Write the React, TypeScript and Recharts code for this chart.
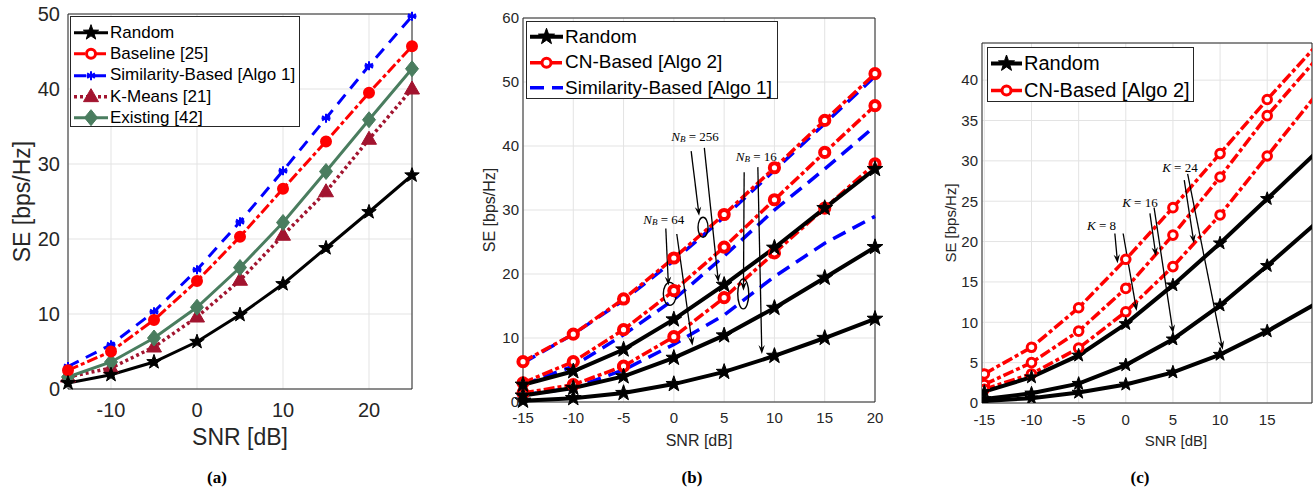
import React from 'react';
import {
  LineChart,
  Line,
  XAxis,
  YAxis,
  CartesianGrid,
  ReferenceArea,
  ReferenceLine,
  ReferenceDot,
  Legend,
} from 'recharts';

const SANS = '"Liberation Sans", Arial, Helvetica, sans-serif';
const SERIF = '"Liberation Serif", "Times New Roman", serif';
const AX = '#262626';
const GRID = '#e3e3e3';
const RED = '#ff0000';
const BLUE = '#0000ff';
const MAROON = '#a2142f';
const GREEN = '#4a7d5f';
const RED_DASH = '11 3 4 3';

// ---- (a) SE vs SNR, K-means / existing comparison ----
const snrA = [-15, -10, -5, 0, 5, 10, 15, 20, 25];
const randomA = [0.8, 1.9, 3.6, 6.3, 9.9, 14.0, 18.8, 23.6, 28.5];
const baselineA = [2.5, 5.0, 9.2, 14.4, 20.3, 26.7, 33.0, 39.5, 45.7];
const similarityA = [3.0, 5.9, 10.3, 15.9, 22.3, 29.1, 36.1, 43.1, 49.7];
const kmeansA = [1.6, 2.8, 5.6, 9.6, 14.5, 20.5, 26.3, 33.3, 40.0];
const existingA = [1.6, 3.6, 6.8, 10.9, 16.2, 22.2, 29.0, 35.9, 42.7];
const xTicksA = [-10, 0, 10, 20];
const yTicksA = [0, 10, 20, 30, 40, 50];

// ---- (b) three N_B groups ----
const snrB = [-15, -10, -5, 0, 5, 10, 15, 20];
const cnB256 = [6.3, 10.6, 16.1, 22.5, 29.3, 36.6, 44.0, 51.3];
const cnB64 = [3.0, 6.3, 11.3, 17.4, 24.2, 31.6, 39.0, 46.3];
const cnB16 = [1.4, 2.7, 5.6, 10.2, 16.3, 23.3, 30.3, 37.2];
const simB256 = [6.1, 10.6, 15.9, 22.1, 28.9, 36.2, 43.5, 50.9];
const simB64 = [2.7, 5.6, 10.5, 16.0, 22.8, 30.0, 36.4, 43.1];
const simB16 = [1.1, 2.2, 5.0, 9.0, 13.6, 19.6, 24.8, 29.0];
const randB256 = [2.7, 4.8, 8.2, 12.9, 18.3, 24.1, 30.3, 36.4];
const randB64 = [1.0, 2.2, 4.0, 6.9, 10.4, 14.7, 19.4, 24.2];
const randB16 = [0.2, 0.6, 1.4, 2.8, 4.7, 7.2, 10.0, 13.0];
const xTicksB = [-15, -10, -5, 0, 5, 10, 15, 20];
const yTicksB = [0, 10, 20, 30, 40, 50, 60];

// ---- (c) three K groups ----
const snrC = [-15, -10, -5, 0, 5, 10, 15, 20];
const cnHighC = [3.6, 6.9, 11.8, 17.8, 24.2, 30.9, 37.6, 44.0];
const cnMidC = [2.3, 5.0, 8.9, 14.2, 20.8, 28.0, 35.6, 42.3];
const cnLowC = [1.7, 3.6, 6.8, 11.3, 16.9, 23.3, 30.6, 37.9];
const randHighC = [1.4, 3.2, 5.9, 9.8, 14.6, 19.8, 25.3, 30.8];
const randMidC = [0.5, 1.2, 2.4, 4.7, 7.9, 12.1, 17.0, 22.1];
const randLowC = [0.25, 0.6, 1.3, 2.3, 3.8, 6.0, 8.9, 12.2];
const xTicksC = [-15, -10, -5, 0, 5, 10, 15];
const yTicksC = [0, 5, 10, 15, 20, 25, 30, 35, 40];
const xMaxC = 19.75;

const dataA = snrA.map((snr, i) => ({
  snr,
  random: randomA[i],
  baseline: baselineA[i],
  similarity: similarityA[i],
  kmeans: kmeansA[i],
  existing: existingA[i],
}));

const dataB = snrB.map((snr, i) => ({
  snr,
  cn256: cnB256[i],
  cn64: cnB64[i],
  cn16: cnB16[i],
  sim256: simB256[i],
  sim64: simB64[i],
  sim16: simB16[i],
  r256: randB256[i],
  r64: randB64[i],
  r16: randB16[i],
}));

const dataC = snrC.map((snr, i) => ({
  snr,
  cnHigh: cnHighC[i],
  cnMid: cnMidC[i],
  cnLow: cnLowC[i],
  rHigh: randHighC[i],
  rMid: randMidC[i],
  rLow: randLowC[i],
}));

// ---- markers ----
function starPts(cx: number, cy: number, R: number) {
  const pts: string[] = [];
  for (let k = 0; k < 10; k++) {
    const rad = k % 2 === 0 ? R : R * 0.4;
    const a = -Math.PI / 2 + (k * Math.PI) / 5;
    pts.push(`${cx + rad * Math.cos(a)},${cy + rad * Math.sin(a)}`);
  }
  return pts.join(' ');
}

const star = (R: number) => (p: any) =>
  p.cx == null ? <g key={p.index} /> : (
    <polygon key={p.index} points={starPts(p.cx, p.cy, R)} fill="#000" stroke="#000" strokeWidth={1} strokeLinejoin="round" />
  );

const ring = (r: number, sw: number, fill: string) => (p: any) =>
  p.cx == null ? <g key={p.index} /> : (
    <circle key={p.index} cx={p.cx} cy={p.cy} r={r} fill={fill} stroke={RED} strokeWidth={sw} />
  );

// points past the visible x range of (c) get no marker
const inRangeC = (draw: (p: any) => React.ReactNode) => (p: any) =>
  p.payload && p.payload.snr > xMaxC ? <g key={p.index} /> : draw(p);

const asterisk = (p: any) => {
  if (p.cx == null) return <g key={p.index} />;
  const r = 4.5;
  const d = [0, 60, 120].map((deg) => {
    const a = (deg * Math.PI) / 180 + Math.PI / 2;
    return `M${p.cx - r * Math.cos(a)},${p.cy - r * Math.sin(a)}L${p.cx + r * Math.cos(a)},${p.cy + r * Math.sin(a)}`;
  });
  return <path key={p.index} d={d.join('') + `M${p.cx - r},${p.cy}L${p.cx + r},${p.cy}`} stroke={BLUE} strokeWidth={2} fill="none" />;
};

const triangle = (p: any) =>
  p.cx == null ? <g key={p.index} /> : (
    <polygon key={p.index} points={`${p.cx},${p.cy - 8} ${p.cx - 7.5},${p.cy + 5} ${p.cx + 7.5},${p.cy + 5}`} fill={MAROON} stroke={MAROON} strokeWidth={1} />
  );

const diamond = (p: any) =>
  p.cx == null ? <g key={p.index} /> : (
    <polygon key={p.index} points={`${p.cx},${p.cy - 8} ${p.cx + 6.5},${p.cy} ${p.cx},${p.cy + 8} ${p.cx - 6.5},${p.cy}`} fill={GREEN} stroke={GREEN} strokeWidth={1} />
  );

// ---- annotation shapes ----
const arrowShape = (props: any) => {
  const { x1, y1, x2, y2 } = props;
  const ang = Math.atan2(y2 - y1, x2 - x1);
  const c = Math.cos(ang);
  const s = Math.sin(ang);
  const L = 9;
  const W = 3.2;
  const bx = x2 - L * c;
  const by = y2 - L * s;
  const nx = x2 - L * 0.65 * c;
  const ny = y2 - L * 0.65 * s;
  const pts = `${x2},${y2} ${bx - W * s},${by + W * c} ${nx},${ny} ${bx + W * s},${by - W * c}`;
  return (
    <g>
      <line x1={x1} y1={y1} x2={nx} y2={ny} stroke="#000" strokeWidth={1.3} />
      <polygon points={pts} fill="#000" />
    </g>
  );
};

const ellipseShape = (rx: number, ry: number) => (p: any) => (
  <ellipse cx={p.cx} cy={p.cy} rx={rx} ry={ry} fill="none" stroke="#000" strokeWidth={1.4} />
);

const nbNote = (value: string) => (p: any) => (
  <text x={p.cx} y={p.cy} textAnchor="middle" dominantBaseline="central" fontFamily={SERIF} fontSize={13} fill="#000">
    <tspan fontStyle="italic">N</tspan>
    <tspan fontStyle="italic" fontSize={9} dy={3}>B</tspan>
    <tspan dy={-3}>{` = ${value}`}</tspan>
  </text>
);

const kNote = (value: string) => (p: any) => (
  <text x={p.cx} y={p.cy} textAnchor="middle" dominantBaseline="central" fontFamily={SERIF} fontSize={13} fill="#000">
    <tspan fontStyle="italic">K</tspan>
    <tspan>{` = ${value}`}</tspan>
  </text>
);

// ---- axis labels ----
const yLabel = (text: string, fs: number, cxFromLeft: number) => (p: any) => {
  const vb = p.viewBox;
  const cx = vb.x + cxFromLeft;
  const cy = vb.y + vb.height / 2;
  return (
    <text x={cx} y={cy} transform={`rotate(-90 ${cx} ${cy})`} textAnchor="middle" dominantBaseline="central" fontFamily={SANS} fontSize={fs} fill={AX}>
      {text}
    </text>
  );
};

const xLabel = (text: string, fs: number, cyFromTop: number, dx = 0) => (p: any) => {
  const vb = p.viewBox;
  return (
    <text x={vb.x + vb.width / 2 + dx} y={vb.y + cyFromTop} textAnchor="middle" dominantBaseline="central" fontFamily={SANS} fontSize={fs} fill={AX}>
      {text}
    </text>
  );
};

// ---- legend ----
type LegendItem = {
  label: string;
  color: string;
  width: number;
  dash?: string;
  marker?: (p: any) => React.ReactNode;
};

function LegendBox({ items, w, h, rowH, padTop, sampleW, textX, fontSize }: {
  items: LegendItem[]; w: number; h: number; rowH: number; padTop: number; sampleW: number; textX: number; fontSize: number;
}) {
  return (
    <div
      style={{
        width: w,
        height: h,
        boxSizing: 'border-box',
        border: `1px solid ${AX}`,
        background: '#fff',
        paddingTop: padTop,
        fontFamily: SANS,
        fontSize,
        color: '#000',
      }}
    >
      {items.map((it) => (
        <div key={it.label} style={{ height: rowH, display: 'flex', alignItems: 'center', whiteSpace: 'nowrap' }}>
          <svg width={textX} height={rowH} style={{ flexShrink: 0 }}>
            <line x1={3} x2={3 + sampleW} y1={rowH / 2} y2={rowH / 2} stroke={it.color} strokeWidth={it.width} strokeDasharray={it.dash} />
            {it.marker ? it.marker({ cx: 3 + sampleW / 2, cy: rowH / 2, index: 0 }) : null}
          </svg>
          <span>{it.label}</span>
        </div>
      ))}
    </div>
  );
}

const tickStyle = (fs: number) => ({ fill: AX, fontSize: fs, fontFamily: SANS });

function PanelA() {
  const items: LegendItem[] = [
    { label: 'Random', color: '#000', width: 3, marker: star(8) },
    { label: 'Baseline [25]', color: RED, width: 3, dash: RED_DASH, marker: ring(4.5, 3, '#fff') },
    { label: 'Similarity-Based [Algo 1]', color: BLUE, width: 3, dash: '12 8', marker: asterisk },
    { label: 'K-Means [21]', color: MAROON, width: 3.5, dash: '3 3', marker: triangle },
    { label: 'Existing [42]', color: GREEN, width: 3, marker: diamond },
  ];
  return (
    <LineChart width={430} height={460} data={dataA} margin={{ top: 14, right: 18, left: 0, bottom: 0 }}>
      <CartesianGrid stroke={GRID} strokeWidth={1} />
      <XAxis
        type="number"
        dataKey="snr"
        domain={[-15, 25]}
        ticks={xTicksA}
        interval={0}
        height={71}
        axisLine={false}
        tickLine={false}
        tickSize={0}
        tickMargin={14}
        tick={tickStyle(20)}
        label={xLabel('SNR [dB]', 23, 48)}
      />
      <YAxis
        type="number"
        domain={[0, 50]}
        ticks={yTicksA}
        interval={0}
        width={68}
        axisLine={false}
        tickLine={false}
        tickSize={0}
        tickMargin={8}
        tick={tickStyle(20)}
        label={yLabel('SE [bps/Hz]', 23, 22)}
      />
      <ReferenceArea x1={-15} x2={25} y1={0} y2={50} fill="none" stroke={AX} strokeWidth={1} />
      <Line dataKey="kmeans" stroke={MAROON} strokeWidth={3.5} strokeDasharray="3 3" dot={triangle} isAnimationActive={false} />
      <Line dataKey="existing" stroke={GREEN} strokeWidth={3} dot={diamond} isAnimationActive={false} />
      <Line dataKey="similarity" stroke={BLUE} strokeWidth={3} strokeDasharray="12 8" dot={asterisk} isAnimationActive={false} />
      <Line dataKey="baseline" stroke={RED} strokeWidth={3} strokeDasharray={RED_DASH} dot={ring(4.5, 3, RED)} isAnimationActive={false} />
      <Line dataKey="random" stroke="#000" strokeWidth={3} dot={star(7.6)} isAnimationActive={false} />
      <Legend
        layout="horizontal"
        verticalAlign="middle"
        align="center"
        wrapperStyle={{ left: 70, top: 16, width: 'auto' }}
        content={() => <LegendBox items={items} w={230} h={111} rowH={21.3} padTop={5} sampleW={34} textX={39} fontSize={17} />}
      />
    </LineChart>
  );
}

function PanelB() {
  const items: LegendItem[] = [
    { label: 'Random', color: '#000', width: 4, marker: star(8.5) },
    { label: 'CN-Based [Algo 2]', color: RED, width: 3.5, dash: RED_DASH, marker: ring(4.5, 3, '#fff') },
    { label: 'Similarity-Based [Algo 1]', color: BLUE, width: 3.5, dash: '14 8' },
  ];
  const redDot = ring(4.6, 4, '#fff');
  return (
    <LineChart width={430} height={460} data={dataB} margin={{ top: 18, right: 15, left: 0, bottom: 0 }}>
      <CartesianGrid stroke={GRID} strokeWidth={1} />
      <XAxis
        type="number"
        dataKey="snr"
        domain={[-15, 20]}
        ticks={xTicksB}
        interval={0}
        height={58}
        axisLine={false}
        tickLine={false}
        tickSize={0}
        tickMargin={10}
        tick={tickStyle(15)}
        label={xLabel('SNR [dB]', 16, 38)}
      />
      <YAxis
        type="number"
        domain={[0, 60]}
        ticks={yTicksB}
        interval={0}
        width={63}
        axisLine={false}
        tickLine={false}
        tickSize={0}
        tickMargin={4}
        tick={tickStyle(15)}
        label={yLabel('SE [bps/Hz]', 16, 29)}
      />
      <ReferenceArea x1={-15} x2={20} y1={0} y2={60} fill="none" stroke={AX} strokeWidth={1} />
      <Line dataKey="sim256" stroke={BLUE} strokeWidth={3.5} strokeDasharray="14 8" dot={false} isAnimationActive={false} />
      <Line dataKey="sim64" stroke={BLUE} strokeWidth={3.5} strokeDasharray="14 8" dot={false} isAnimationActive={false} />
      <Line dataKey="sim16" stroke={BLUE} strokeWidth={3.5} strokeDasharray="14 8" dot={false} isAnimationActive={false} />
      <Line dataKey="cn256" stroke={RED} strokeWidth={3.5} strokeDasharray={RED_DASH} dot={redDot} isAnimationActive={false} />
      <Line dataKey="cn64" stroke={RED} strokeWidth={3.5} strokeDasharray={RED_DASH} dot={redDot} isAnimationActive={false} />
      <Line dataKey="cn16" stroke={RED} strokeWidth={3.5} strokeDasharray={RED_DASH} dot={redDot} isAnimationActive={false} />
      <Line dataKey="r256" stroke="#000" strokeWidth={4} dot={star(8.3)} isAnimationActive={false} />
      <Line dataKey="r64" stroke="#000" strokeWidth={4} dot={star(8.3)} isAnimationActive={false} />
      <Line dataKey="r16" stroke="#000" strokeWidth={4} dot={star(8.3)} isAnimationActive={false} />
      <ReferenceDot x={2.1} y={41.5} r={0} shape={nbNote('256')} />
      <ReferenceDot x={-1.0} y={28.6} r={0} shape={nbNote('64')} />
      <ReferenceDot x={8.2} y={38.5} r={0} shape={nbNote('16')} />
      <ReferenceDot x={2.9} y={27.3} r={0} shape={ellipseShape(5, 10)} />
      <ReferenceDot x={-0.4} y={16.9} r={0} shape={ellipseShape(6.5, 11.5)} />
      <ReferenceDot x={6.9} y={16.9} r={0} shape={ellipseShape(5.5, 15)} />
      <ReferenceLine segment={[{ x: 1.72, y: 39.2 }, { x: 2.51, y: 29.1 }]} shape={arrowShape} />
      <ReferenceLine segment={[{ x: 3.03, y: 39.7 }, { x: 4.43, y: 18.7 }]} shape={arrowShape} />
      <ReferenceLine segment={[{ x: -0.8, y: 27.1 }, { x: -0.54, y: 18.2 }]} shape={arrowShape} />
      <ReferenceLine segment={[{ x: 0.29, y: 26.25 }, { x: 1.85, y: 8.8 }]} shape={arrowShape} />
      <ReferenceLine segment={[{ x: 6.99, y: 35.9 }, { x: 6.92, y: 17.4 }]} shape={arrowShape} />
      <ReferenceLine segment={[{ x: 8.35, y: 36.7 }, { x: 8.75, y: 7.5 }]} shape={arrowShape} />
      <Legend
        layout="horizontal"
        verticalAlign="middle"
        align="center"
        wrapperStyle={{ left: 66, top: 21, width: 'auto' }}
        content={() => <LegendBox items={items} w={252} h={78} rowH={25.5} padTop={2} sampleW={33} textX={38} fontSize={19} />}
      />
    </LineChart>
  );
}

function PanelC() {
  const items: LegendItem[] = [
    { label: 'Random', color: '#000', width: 4, marker: star(8.5) },
    { label: 'CN-Based [Algo 2]', color: RED, width: 3.5, dash: RED_DASH, marker: ring(4.5, 3, '#fff') },
  ];
  const redDot = inRangeC(ring(4.3, 3, '#fff'));
  const blackDot = inRangeC(star(7));
  return (
    <LineChart width={393} height={460} data={dataC} margin={{ top: 43, right: 1, left: 0, bottom: 0 }}>
      <CartesianGrid stroke={GRID} strokeWidth={1} />
      <XAxis
        type="number"
        dataKey="snr"
        domain={[-15.25, xMaxC]}
        allowDataOverflow
        ticks={xTicksC}
        interval={0}
        height={57}
        axisLine={false}
        tickLine={false}
        tickSize={0}
        tickMargin={11}
        tick={tickStyle(15)}
        label={xLabel('SNR [dB]', 15, 37, 29)}
      />
      <YAxis
        type="number"
        domain={[0, 44.6]}
        allowDataOverflow
        ticks={yTicksC}
        interval={0}
        width={62}
        axisLine={false}
        tickLine={false}
        tickSize={0}
        tickMargin={4}
        tick={tickStyle(15)}
        label={yLabel('SE [bps/Hz]', 15, 30)}
      />
      <ReferenceArea x1={-15.25} x2={xMaxC} y1={0} y2={44.6} fill="none" stroke={AX} strokeWidth={1} />
      <Line dataKey="cnHigh" stroke={RED} strokeWidth={3.5} strokeDasharray={RED_DASH} dot={redDot} isAnimationActive={false} />
      <Line dataKey="cnMid" stroke={RED} strokeWidth={3.5} strokeDasharray={RED_DASH} dot={redDot} isAnimationActive={false} />
      <Line dataKey="cnLow" stroke={RED} strokeWidth={3.5} strokeDasharray={RED_DASH} dot={redDot} isAnimationActive={false} />
      <Line dataKey="rHigh" stroke="#000" strokeWidth={4} dot={blackDot} isAnimationActive={false} />
      <Line dataKey="rMid" stroke="#000" strokeWidth={4} dot={blackDot} isAnimationActive={false} />
      <Line dataKey="rLow" stroke="#000" strokeWidth={4} dot={blackDot} isAnimationActive={false} />
      <ReferenceDot x={-2.57} y={22.0} r={0} shape={kNote('8')} />
      <ReferenceDot x={1.5} y={24.9} r={0} shape={kNote('16')} />
      <ReferenceDot x={5.74} y={29.2} r={0} shape={kNote('24')} />
      <ReferenceLine segment={[{ x: -1.16, y: 21.0 }, { x: -0.87, y: 17.3 }]} shape={arrowShape} />
      <ReferenceLine segment={[{ x: -0.28, y: 21.0 }, { x: 1.15, y: 11.4 }]} shape={arrowShape} />
      <ReferenceLine segment={[{ x: 2.56, y: 23.5 }, { x: 3.2, y: 18.2 }]} shape={arrowShape} />
      <ReferenceLine segment={[{ x: 3.0, y: 24.2 }, { x: 5.03, y: 8.6 }]} shape={arrowShape} />
      <ReferenceLine segment={[{ x: 6.2, y: 27.6 }, { x: 7.23, y: 19.8 }]} shape={arrowShape} />
      <ReferenceLine segment={[{ x: 6.56, y: 28.4 }, { x: 10.28, y: 6.6 }]} shape={arrowShape} />
      <Legend
        layout="horizontal"
        verticalAlign="middle"
        align="center"
        wrapperStyle={{ left: 67, top: 47, width: 'auto' }}
        content={() => <LegendBox items={items} w={207} h={55} rowH={27} padTop={1.5} sampleW={31} textX={36} fontSize={20} />}
      />
    </LineChart>
  );
}

const captionStyle = (cx: number): React.CSSProperties => ({
  position: 'absolute',
  left: cx - 30,
  top: 468,
  width: 60,
  lineHeight: '20px',
  textAlign: 'center',
  fontFamily: SERIF,
  fontWeight: 'bold',
  fontSize: 17,
  color: '#000',
});

export default function App() {
  return (
    <div style={{ position: 'absolute', left: 0, top: 0, width: 1313, height: 487, background: '#fff', overflow: 'hidden' }}>
      <div style={{ position: 'absolute', left: 0, top: 0 }}>
        <PanelA />
      </div>
      <div style={{ position: 'absolute', left: 460, top: 0 }}>
        <PanelB />
      </div>
      <div style={{ position: 'absolute', left: 920, top: 0 }}>
        <PanelC />
      </div>
      <div style={captionStyle(217)}>(a)</div>
      <div style={captionStyle(692)}>(b)</div>
      <div style={captionStyle(1140)}>(c)</div>
    </div>
  );
}
